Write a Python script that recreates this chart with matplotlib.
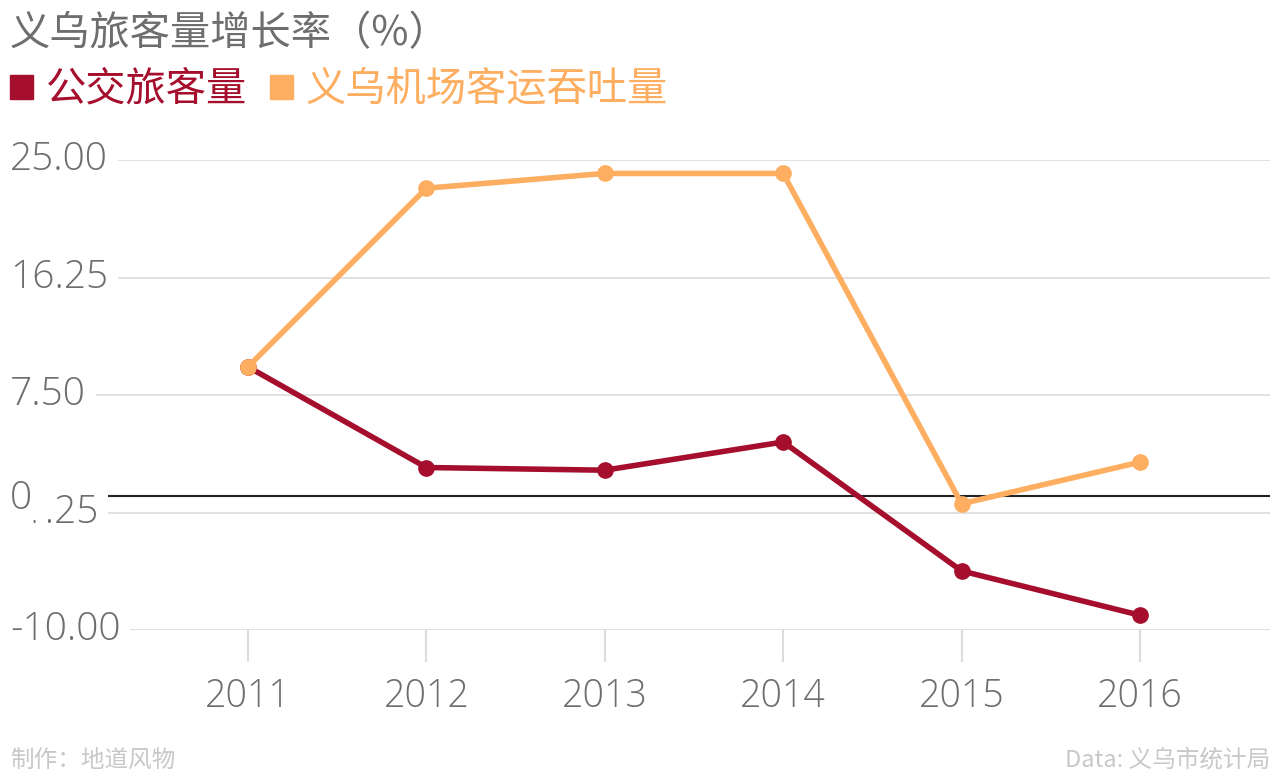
# -*- coding: utf-8 -*-

import matplotlib.pyplot as plt
from matplotlib.patches import Rectangle
import numpy as np

plt.rcParams['font.family'] = ['Open Sans', 'Noto Sans CJK SC', 'DejaVu Sans']

years = np.array([2011, 2012, 2013, 2014, 2015, 2016])
bus = np.array([9.6, 2.1, 1.9, 4.0, -5.6, -8.9])
airport = np.array([9.6, 22.9, 24.0, 24.0, -0.6, 2.5])

y_ticks = [25.00, 16.25, 7.50, -1.25, -10.00]
y_labels = ['25.00', '16.25', '7.50', '-1.25', '-10.00']

title = '义乌旅客量增长率（%）'
names = ['公交旅客量', '义乌机场客运吞吐量']
credit = '制作：地道风物'
source = 'Data: 义乌市统计局'

red = '#a50f2d'
orange = '#fdae61'
gray = '#6e6e6e'
grid_c = '#dcdcdc'
cjk = ['Noto Sans CJK SC', 'DejaVu Sans']

W, H = 1280, 776
fig = plt.figure(figsize=(W / 100, H / 100), dpi=100)
ax = fig.add_axes([10 / W, 1 - 630 / H, 1260 / W, 470 / H])

ax.plot(years, bus, color=red, lw=4, marker='o', ms=11, zorder=4,
        solid_capstyle='round')
ax.plot(years, airport, color=orange, lw=4, marker='o', ms=11, zorder=5,
        solid_capstyle='round')

ax.set_xlim(2009.666, 2016.729)
ax.set_ylim(-10, 25)

# gridlines
for t in y_ticks:
    ax.axhline(t, color=grid_c, lw=1.2, zorder=1)
ax.axhline(0, color='#222222', lw=1.5, zorder=2)

# y labels sit inside the plot, white box hides the grid behind them
ytr = ax.get_yaxis_transform()
for t, lab in zip(y_ticks, y_labels):
    ax.text(0, t, lab, transform=ytr, ha='left', va='center', fontsize=28,
            fontweight='light', color=gray, zorder=6, clip_on=False,
            bbox=dict(boxstyle='square,pad=0.25', fc='white', ec='none'))
ax.text(0, -0.2, '0 ', transform=ytr, ha='left', va='center', fontsize=28,
        fontweight='light', color=gray, zorder=7, clip_on=False,
        bbox=dict(boxstyle='square,pad=0.05', fc='white', ec='none'))

ax.set_yticks([])
ax.set_xticks(years)
ax.set_xticklabels([str(y) for y in years])
ax.tick_params(axis='x', length=23, width=1.5, color=grid_c, pad=11,
               labelsize=27, labelcolor=gray)
for lbl in ax.get_xticklabels():
    lbl.set_fontweight('light')
for s in ax.spines.values():
    s.set_visible(False)

# title and legend
fig.text(10 / W, 1 - 34 / H, title, ha='left', va='center', fontsize=29,
         color=gray, family=cjk)
fig.patches.append(Rectangle((10 / W, 1 - 99 / H), 23 / W, 24 / H,
                             transform=fig.transFigure, color=red))
fig.text(46 / W, 1 - 89 / H, names[0], ha='left', va='center', fontsize=29,
         color=red, family=cjk)
fig.patches.append(Rectangle((270 / W, 1 - 99 / H), 23 / W, 24 / H,
                             transform=fig.transFigure, color=orange))
fig.text(306 / W, 1 - 89 / H, names[1], ha='left', va='center', fontsize=29,
         color=orange, family=cjk)

# footer
fig.text(10 / W, 1 - 760 / H, credit, ha='left', va='center', fontsize=17,
         color='#c8c8c8', family=cjk)
fig.text(1270 / W, 1 - 760 / H, source, ha='right', va='center', fontsize=17,
         color='#c8c8c8', family=cjk)

fig.savefig('out.png', dpi=100)
